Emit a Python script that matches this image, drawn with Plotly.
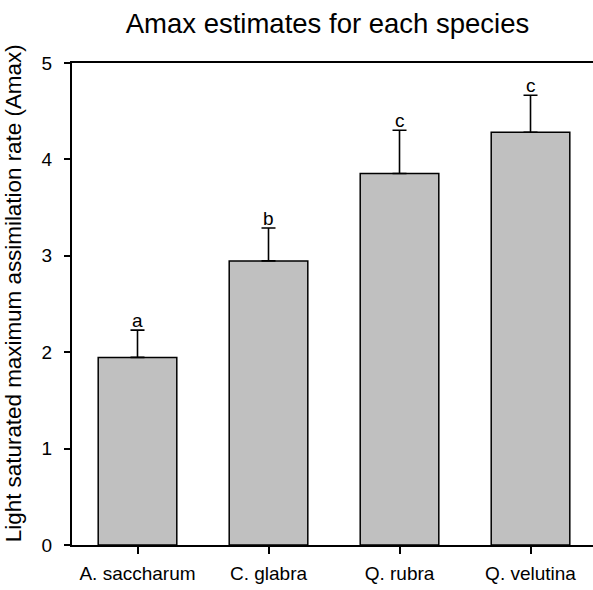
import plotly.graph_objects as go

species = ["A. saccharum", "C. glabra", "Q. rubra", "Q. velutina"]
amax = [1.946, 2.947, 3.853, 4.282]
amax_err = [0.283, 0.342, 0.449, 0.383]
group_letters = ["a", "b", "c", "c"]
y_ticks = [0, 1, 2, 3, 4, 5]

FONT = "Arial, Liberation Sans, sans-serif"

fig = go.Figure()
fig.add_trace(go.Bar(
    x=list(range(len(species))),
    y=amax,
    width=0.6,
    marker=dict(color="#c0c0c0", line=dict(color="black", width=1.5)),
    error_y=dict(type="data", array=amax_err, arrayminus=[0] * len(amax_err),
                 symmetric=False, color="black", thickness=1.6, width=7),
    showlegend=False,
))

for i, (v, e, g) in enumerate(zip(amax, amax_err, group_letters)):
    fig.add_annotation(x=i, y=v + e, text=g, showarrow=False, xref="x", yref="y",
                       yanchor="bottom", yshift=-3,
                       font=dict(family=FONT, size=19, color="black"))

fig.add_annotation(text="Light saturated maximum assimilation rate (Amax)",
                   xref="paper", yref="paper", x=(13 - 72) / 521, y=0.5225,
                   xanchor="center", yanchor="middle", textangle=-90, showarrow=False,
                   font=dict(family=FONT, size=22.4, color="black"))

fig.update_layout(
    width=593, height=590,
    margin=dict(l=72, r=0, t=63, b=45, autoexpand=False),
    plot_bgcolor="white", paper_bgcolor="white",
    title=dict(text="Amax estimates for each species", x=327.5 / 593, xanchor="center",
               y=1 - 23 / 590, yanchor="middle",
               font=dict(family=FONT, size=27.5, color="black")),
    xaxis=dict(range=[-0.5, 3.477], tickvals=list(range(len(species))), ticktext=species,
               showline=True, linecolor="black", linewidth=2, mirror=True,
               ticks="outside", ticklen=7, tickwidth=2, tickcolor="black",
               showgrid=False, zeroline=False, automargin=False,
               ticklabelstandoff=3,
               tickfont=dict(family=FONT, size=19, color="black")),
    yaxis=dict(range=[0, 5], tickvals=y_ticks,
               showline=True, linecolor="black", linewidth=2,
               ticks="outside", ticklen=6, tickwidth=2, tickcolor="black",
               showgrid=False, zeroline=False, automargin=False,
               ticklabelstandoff=8,
               tickfont=dict(family=FONT, size=19, color="black")),
)

fig.write_html("out.html")
